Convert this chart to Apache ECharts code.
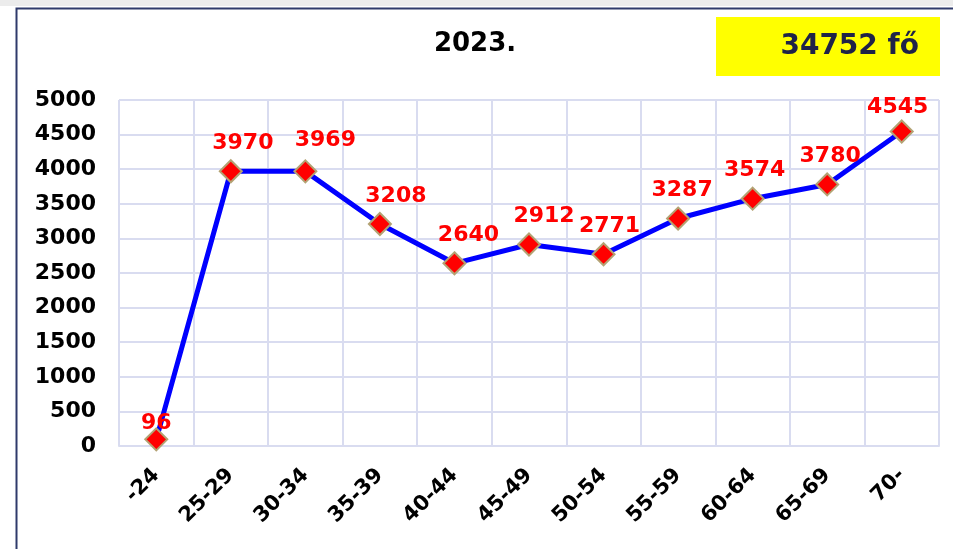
<!DOCTYPE html>
<html><head><meta charset="utf-8">
<script src="https://cdn.jsdelivr.net/npm/echarts@6/dist/echarts.min.js"></script>
<style>html,body{margin:0;padding:0;background:#fff}#c{width:953px;height:549px}</style>
</head><body><div id="c"></div>
<script>
const categories = ['-24','25-29','30-34','35-39','40-44','45-49','50-54','55-59','60-64','65-69','70-'];
const values = [96,3970,3969,3208,2640,2912,2771,3287,3574,3780,4545];
const titleText = '2023.';
const totalText = '34752 fő';
// manual data-label nudges (style only)
const labelNudgeX = [0,12,20,16,14,15,6,4,2,3,-4];
const labelNudgeY = [12,0,-3,0,0,0,0,0,0,0,4];
const F = 'DejaVu Sans';
const chart = echarts.init(document.getElementById('c'));
chart.setOption({
  animation:false,
  backgroundColor:'#fff',
  graphic:[
    {type:'rect',left:0,top:0,shape:{width:953,height:6},style:{fill:'#ececec'},z:-1},
    {type:'rect',left:14,top:6,shape:{x:0,y:0,width:1000,height:600},style:{fill:'none',stroke:'#2f3a6b',lineWidth:2},z:10},
    {type:'rect',left:716,top:17,shape:{width:224,height:59},style:{fill:'#ffff00'}},
    {type:'text',right:34,top:33,style:{text:totalText,fill:'#1f2348',font:'bold 28px "DejaVu Sans"'},z:5}
  ],
  title:{text:titleText,left:470,top:26,textAlign:'center',textStyle:{fontFamily:F,fontWeight:'bold',fontSize:26,color:'#000'}},
  grid:{left:119,right:14,top:100,bottom:103},
  xAxis:{type:'category',data:categories,boundaryGap:true,
    axisLine:{show:true,lineStyle:{color:'#d9dcf0',width:2}},
    axisTick:{show:false},
    splitLine:{show:true,lineStyle:{color:'#d9dcf0',width:2}},
    axisLabel:{rotate:45,margin:26,interval:0,fontFamily:F,fontWeight:'bold',fontSize:21,color:'#000'}},
  yAxis:{type:'value',min:0,max:5000,interval:500,
    axisLine:{show:false},axisTick:{show:false},
    splitLine:{lineStyle:{color:'#d9dcf0',width:2}},
    axisLabel:{margin:23,fontFamily:F,fontWeight:'bold',fontSize:22,color:'#000',formatter:v=>String(v)}},
  series:[{type:'line',symbol:'diamond',symbolSize:22,
    data:values.map((v,i)=>({value:v,label:{offset:[labelNudgeX[i],labelNudgeY[i]]}})),
    lineStyle:{color:'#0000ff',width:5},
    itemStyle:{color:'#ff0000',borderColor:'#b3a273',borderWidth:2},
    label:{show:true,position:'top',distance:5,fontFamily:F,fontWeight:'bold',fontSize:22,color:'#ff0000'}}]
});
</script></body></html>
